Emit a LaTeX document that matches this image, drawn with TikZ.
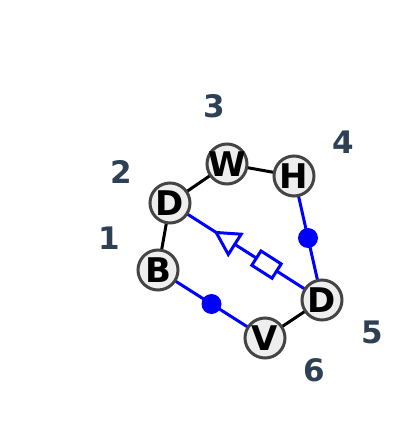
\documentclass[tikz,border=0pt]{standalone}
\usepackage{fontspec}
\usepackage{xcolor}
\usetikzlibrary{decorations.markings}
\setmainfont{DejaVu Sans}

\definecolor{labelSlate}{HTML}{2E4053}
\definecolor{ringGray}{HTML}{444444}
\definecolor{fillGray}{HTML}{EEEEEE}

\tikzset{
  vertex/.style={circle, draw=ringGray, fill=fillGray, line width=1.5pt,
    minimum size=20pt, inner sep=-3pt, font=\fontsize{17}{20}\selectfont\bfseries},
  posLabel/.style={text=labelSlate, inner sep=0pt, font=\fontsize{15.5}{18}\selectfont\bfseries},
  plainEdge/.style={line width=1.5pt, black},
  blueEdge/.style={line width=1.5pt, blue},
}

\begin{document}
\begin{tikzpicture}[x=0.5pt, y=-0.5pt]
                \useasboundingbox (0,0) rectangle (400,423);

                \coordinate (pB) at (158,270);
                \coordinate (pDtop) at (170,203);
                \coordinate (pW) at (227,164);
                \coordinate (pH) at (294,176);
                \coordinate (pDright) at (322,300);
                \coordinate (pV) at (265,338);

                % black edges first, nodes drawn over them
                \draw[plainEdge] (pDtop) -- (pW);
                \draw[plainEdge] (pW) -- (pH);
                \draw[plainEdge] (pDtop) -- (pB);
                \draw[plainEdge] (pDright) -- (pV);

                \draw[blueEdge] (pB) -- (pV) node[midway, circle, fill=blue, inner sep=0pt, minimum size=10pt] (dotBV) {};
                \draw[blueEdge] (pH) -- (pDright) node[midway, circle, fill=blue, inner sep=0pt, minimum size=10pt] (dotHD) {};
                \draw[blueEdge, postaction={decorate}, decoration={markings,
                    mark=at position 0.365 with {\draw[blueEdge, fill=white] (-11,0) -- (11,12) -- (11,-12) -- cycle;},
                    mark=at position 0.635 with {\draw[blueEdge, fill=white] (-12,-8.5) rectangle (12,8.5);}}]
                    (pDtop) -- (pDright);

                \node[vertex] (nodeB) at (pB) {B};
                \node[vertex] (nodeDtop) at (pDtop) {D};
                \node[vertex] (nodeW) at (pW) {W};
                \node[vertex] (nodeH) at (pH) {H};
                \node[vertex] (nodeDright) at (pDright) {D};
                \node[vertex] (nodeV) at (pV) {V};

                \node[posLabel] (lab1) at (109,238) {1};
                \node[posLabel] (lab2) at (121,172) {2};
                \node[posLabel] (lab3) at (214,106) {3};
                \node[posLabel] (lab4) at (343,142) {4};
                \node[posLabel] (lab5) at (372,332) {5};
                \node[posLabel] (lab6) at (314,370) {6};
\end{tikzpicture}
\end{document}
